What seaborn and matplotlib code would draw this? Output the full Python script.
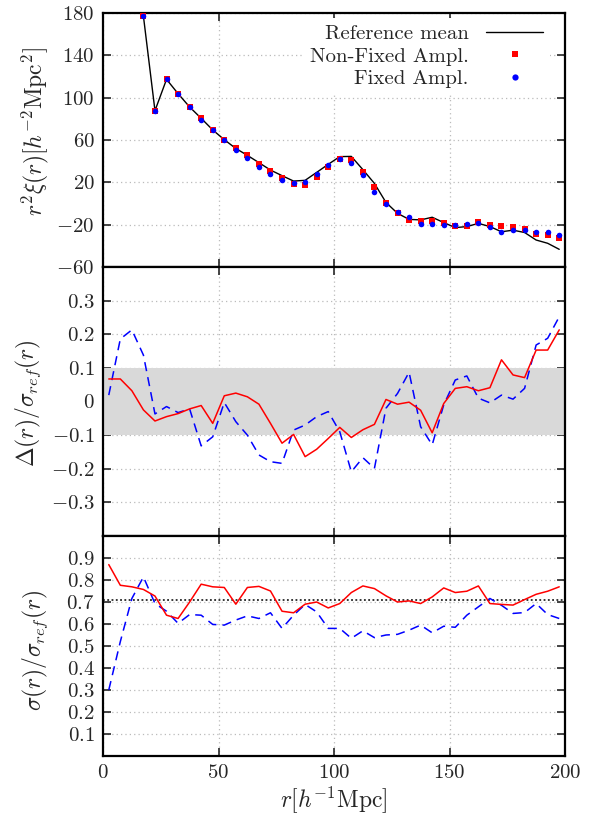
"""Two-point correlation comparison: fixed vs non-fixed amplitude runs."""

import matplotlib

matplotlib.use("Agg")
import matplotlib.pyplot as plt
import seaborn as sns
from matplotlib.lines import Line2D
from matplotlib.ticker import FixedLocator, FuncFormatter


# bin centres [h^-1 Mpc]
r_bins = [
    2.5, 7.5, 12.5, 17.5, 22.5, 27.5, 32.5, 37.5, 42.5, 47.5,
    52.5, 57.5, 62.5, 67.5, 72.5, 77.5, 82.5, 87.5, 92.5, 97.5,
    102.5, 107.5, 112.5, 117.5, 122.5, 127.5, 132.5, 137.5, 142.5, 147.5,
    152.5, 157.5, 162.5, 167.5, 172.5, 177.5, 182.5, 187.5, 192.5, 197.5,
]
# the top panel only shows bins from 17.5 on (the rest is off scale)
r_xi = r_bins[3:]

xi_ref_mean = [
    177, 87.7, 117.3, 103.8, 91.2, 80.5, 69.5, 60.3, 52.0, 45.5,
    38.6, 31.6, 26.3, 21.2, 21.9, 29.4, 37.0, 44.3, 44.5, 32.0,
    19.0, 1.0, -9.3, -15.0, -15.5, -13.0, -18.0, -22.8, -21.8, -18.8,
    -21.8, -26.7, -25.2, -27.4, -34.5, -37.6, -43.3,
]
xi_non_fixed = [
    177, 87.7, 117.3, 103.8, 91.2, 80.5, 69.8, 60.0, 52.4, 45.5,
    37.7, 30.5, 24.5, 18.5, 17.9, 25.1, 34.2, 41.8, 41.1, 29.4,
    15.8, 0.9, -8.9, -15.8, -16.7, -17.0, -18.0, -21.5, -21.5, -17.4,
    -19.9, -21.2, -22.1, -24.0, -28.5, -29.4, -32.6,
]
xi_fixed = [
    177, 87.7, 117.3, 103.8, 91.2, 78.9, 69.2, 60.0, 50.9, 43.3,
    34.6, 27.7, 22.6, 19.1, 20.7, 28.3, 36.7, 42.1, 38.0, 26.6,
    11.0, -0.4, -8.3, -12.6, -19.0, -19.6, -19.9, -20.5, -19.3, -18.3,
    -22.5, -26.6, -25.3, -25.3, -26.9, -26.9, -30.1,
]

delta_non_fixed = [
    0.067, 0.067, 0.032, -0.025, -0.058, -0.045, -0.036, -0.022, -0.012, -0.065,
    0.017, 0.025, 0.014, -0.008, -0.065, -0.124, -0.098, -0.164, -0.142, -0.110,
    -0.077, -0.107, -0.084, -0.068, 0.006, -0.008, -0.002, -0.026, -0.093, -0.006,
    0.039, 0.044, 0.032, 0.041, 0.124, 0.079, 0.071, 0.153, 0.153, 0.213,
]
delta_fixed = [
    0.019, 0.186, 0.213, 0.138, -0.037, -0.015, -0.033, -0.022, -0.132, -0.105,
    -0.003, -0.060, -0.100, -0.159, -0.179, -0.184, -0.085, -0.070, -0.045, -0.030,
    -0.090, -0.209, -0.167, -0.199, -0.020, 0.024, 0.087, -0.075, -0.129, -0.010,
    0.064, 0.076, 0.010, -0.004, 0.019, 0.007, 0.039, 0.168, 0.188, 0.252,
]

sigma_non_fixed = [
    0.870, 0.776, 0.769, 0.757, 0.727, 0.640, 0.625, 0.700, 0.781, 0.769,
    0.766, 0.690, 0.766, 0.771, 0.750, 0.658, 0.651, 0.690, 0.700, 0.673,
    0.693, 0.743, 0.773, 0.761, 0.728, 0.700, 0.705, 0.693, 0.723, 0.764,
    0.743, 0.749, 0.773, 0.693, 0.689, 0.686, 0.711, 0.735, 0.749, 0.769,
]
sigma_fixed = [
    0.300, 0.520, 0.716, 0.814, 0.693, 0.658, 0.603, 0.643, 0.640, 0.598,
    0.595, 0.618, 0.637, 0.625, 0.651, 0.580, 0.640, 0.689, 0.655, 0.580,
    0.580, 0.535, 0.569, 0.538, 0.550, 0.553, 0.572, 0.595, 0.560, 0.590,
    0.585, 0.640, 0.678, 0.716, 0.685, 0.648, 0.652, 0.693, 0.643, 0.625,
]

sigma_expected = 0.7071  # 1/sqrt(2)
band_low, band_high = -0.1, 0.1

x_ticks = [0, 50, 100, 150, 200]
xi_ticks = [-60, -20, 20, 60, 100, 140, 180]
delta_ticks = [-0.3, -0.2, -0.1, 0, 0.1, 0.2, 0.3]
sigma_ticks = [0.1, 0.2, 0.3, 0.4, 0.5, 0.6, 0.7, 0.8, 0.9]

RED = "#ff0000"
BLUE = "#0000ff"
FIG_W, FIG_H = 594, 816


def _rect(left, top, right, bottom):
    """Axes rectangle from pixel edges (origin top-left)."""
    return [left / FIG_W, 1 - bottom / FIG_H, (right - left) / FIG_W, (bottom - top) / FIG_H]


def _style_axis(ax, yticks, ylim, show_xlabels=False):
    ax.set_xlim(0, 200)
    ax.set_ylim(*ylim)
    ax.xaxis.set_major_locator(FixedLocator(x_ticks))
    ax.yaxis.set_major_locator(FixedLocator(yticks))
    fmt = FuncFormatter(lambda v, _: f"${v:g}$")
    ax.yaxis.set_major_formatter(fmt)
    if show_xlabels:
        ax.xaxis.set_major_formatter(fmt)
    else:
        ax.tick_params(labelbottom=False)
    ax.tick_params(direction="in", top=True, right=True, length=6, width=1.2,
                   labelsize=15, pad=6)
    ax.set_axisbelow(True)
    ax.grid(True, ls=(0, (1, 2.5)), color="#bbbbbb", lw=0.9)
    for spine in ax.spines.values():
        spine.set_linewidth(1.6)
        spine.set_color("black")


sns.set_style("ticks")
plt.rcParams["font.family"] = "serif"
plt.rcParams["font.serif"] = ["cmr10"]
plt.rcParams["mathtext.fontset"] = "cm"
plt.rcParams["axes.formatter.use_mathtext"] = True

fig = plt.figure(figsize=(FIG_W / 100, FIG_H / 100), dpi=100)
ax_xi = fig.add_axes(_rect(103, 13, 565, 267))
ax_delta = fig.add_axes(_rect(103, 267, 565, 536))
ax_sigma = fig.add_axes(_rect(103, 536, 565, 756))

# --- top: r^2 xi(r)
sns.lineplot(x=r_xi, y=xi_ref_mean, ax=ax_xi, color="black", lw=1.0)
sns.scatterplot(x=r_xi, y=xi_non_fixed, ax=ax_xi, color=RED, marker="s", s=14,
                linewidth=0, zorder=3)
sns.scatterplot(x=r_xi, y=xi_fixed, ax=ax_xi, color=BLUE, marker="o", s=16,
                linewidth=0, zorder=4)
_style_axis(ax_xi, xi_ticks, (-60, 180))
ax_xi.set_ylabel(r"$r^2\xi(r)[h^{-2}\mathrm{Mpc}^2]$", fontsize=17)
ax_xi.yaxis.set_label_coords(-0.112, 0.535)

# gnuplot-style key: label first, sample centred on the right
key_handles = [
    Line2D([], [], color="black", lw=1.0),
    Line2D([], [], color=RED, marker="s", ls="", markersize=4, markeredgewidth=0),
    Line2D([], [], color=BLUE, marker="o", ls="", markersize=4.5, markeredgewidth=0),
]
key_labels = ["Reference mean", "Non-Fixed Ampl.", "Fixed Ampl."]
leg = ax_xi.legend(key_handles, key_labels, loc="upper right",
                   bbox_to_anchor=(0.985, 1.012), markerfirst=False, frameon=True,
                   fancybox=False, edgecolor="none", facecolor="white", framealpha=1.0,
                   fontsize=15, handlelength=2.74, handletextpad=0.86,
                   labelspacing=0.19, borderpad=0.3, borderaxespad=0.4, numpoints=1)
leg.set_zorder(5)

# --- middle: Delta / sigma_ref
ax_delta.axhspan(band_low, band_high, color="#d9d9d9", lw=0, zorder=1)
sns.lineplot(x=r_bins, y=delta_non_fixed, ax=ax_delta, color=RED, lw=1.1, zorder=3)
sns.lineplot(x=r_bins, y=delta_fixed, ax=ax_delta, color=BLUE, lw=1.1,
             zorder=2).lines[-1].set_dashes((6, 4))
_style_axis(ax_delta, delta_ticks, (-0.4, 0.4))
ax_delta.set_ylabel(r"$\Delta(r)/\sigma_{ref}(r)$", fontsize=17)
ax_delta.yaxis.set_label_coords(-0.13, 0.494)

# --- bottom: sigma / sigma_ref
ax_sigma.axhline(sigma_expected, color="black", ls=(0, (1.2, 1.6)), lw=1.1, zorder=2)
sns.lineplot(x=r_bins, y=sigma_non_fixed, ax=ax_sigma, color=RED, lw=1.1, zorder=3)
sns.lineplot(x=r_bins, y=sigma_fixed, ax=ax_sigma, color=BLUE, lw=1.1,
             zorder=2).lines[-1].set_dashes((6, 4))
_style_axis(ax_sigma, sigma_ticks, (0, 1), show_xlabels=True)
ax_sigma.set_ylabel(r"$\sigma(r)/\sigma_{ref}(r)$", fontsize=17)
ax_sigma.yaxis.set_label_coords(-0.115, 0.48)
ax_sigma.set_xlabel(r"$r[h^{-1}\mathrm{Mpc}]$", fontsize=17, labelpad=1)

fig.savefig("out.png", dpi=100)
